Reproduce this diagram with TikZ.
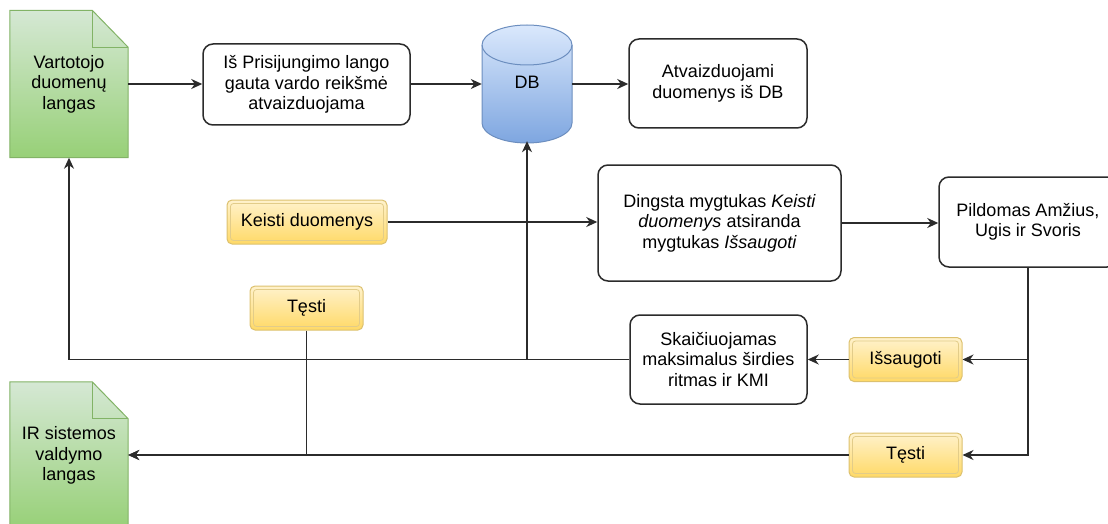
\documentclass[tikz,border=0pt]{standalone}
\usepackage{fontspec}
\setmainfont{Liberation Sans}
\usetikzlibrary{arrows.meta,calc,backgrounds}

\definecolor{greenTop}{HTML}{D5E8D4}
\definecolor{greenBot}{HTML}{97D077}
\definecolor{greenLine}{HTML}{82B366}
\definecolor{blueTop}{HTML}{DAE8FC}
\definecolor{blueBot}{HTML}{7EA6E0}
\definecolor{blueLine}{HTML}{6C8EBF}
\definecolor{yelTop}{HTML}{FFF2CC}
\definecolor{yelBot}{HTML}{FFD966}
\definecolor{yelLine}{HTML}{D6B656}
\definecolor{lineGray}{HTML}{2B2B2B}

\tikzset{
  proc/.style={draw=lineGray, line width=1.5pt, rounded corners=10pt,
    align=center, inner sep=0pt},
  btn/.style={draw=yelLine!85, line width=1pt, rounded corners=5pt,
    top color=yelTop, bottom color=yelBot, align=center, inner sep=0pt,
    minimum width=113pt, minimum height=44pt,
    path picture={\draw[yelLine!70, line width=0.8pt, rounded corners=3pt]
      ([shift={(3.5pt,-3.5pt)}]path picture bounding box.north west) rectangle
      ([shift={(-3.5pt,3.5pt)}]path picture bounding box.south east);}},
  docnode/.style={minimum width=118pt, minimum height=147pt, align=center,
    inner sep=0pt},
  conn/.style={draw=lineGray, line width=1.5pt,
    -{Stealth[length=11pt,width=10pt,inset=3.5pt]}},
  docshape/.style={top color=greenTop, bottom color=greenBot,
    draw=greenLine, line width=1pt}
}

\begin{document}
\begin{tikzpicture}[x=1pt, y=-1pt, font=\fontsize{18}{20.5}\selectfont]
\useasboundingbox (0,0) rectangle (1108,524);

% document windows
\node[docnode] (doc1) at (69,84) {Vartotojo\\duomenų\\langas};
\node[docnode] (doc2) at (69,455.5) {IR sistemos\\valdymo\\langas};

% database
\node[minimum width=90pt, minimum height=118pt, inner sep=0pt] (db) at (527,82) {DB};

% process boxes
\node[proc, minimum width=207pt, minimum height=81pt] (prisij) at (306.5,84.5)
  {Iš Prisijungimo lango\\gauta vardo reikšmė\\atvaizduojama};
\node[proc, minimum width=178pt, minimum height=89pt] (atv) at (718,83.5)
  {Atvaizduojami\\duomenys iš DB};
\node[proc, minimum width=243pt, minimum height=116pt] (ding) at (719.5,223)
  {Dingsta mygtukas \textit{Keisti}\\\textit{duomenys} atsiranda\\mygtukas \textit{Išsaugoti}};
\node[proc, minimum width=178pt, minimum height=90pt] (pild) at (1028,222)
  {Pildomas Amžius,\\Ugis ir Svoris};
\node[proc, minimum width=177pt, minimum height=89pt] (skaic) at (718.5,359.5)
  {Skaičiuojamas\\maksimalus širdies\\ritmas ir KMI};

% buttons
\node[btn, minimum width=160pt] (keisti) at (307,222) {Keisti duomenys};
\node[btn] (testiA) at (306.5,308) {Tęsti};
\node[btn] (isaug) at (905.5,359.5) {Išsaugoti};
\node[btn] (testiB) at (905.5,455) {Tęsti};

\begin{pgfonlayer}{background}
  % folded-corner document shapes
  \foreach \d in {doc1,doc2}{
    \shade[docshape] (\d.north west) -- ($(\d.north east)+(-36,0)$)
      -- ($(\d.north east)+(0,37)$) -- (\d.south east) -- (\d.south west) -- cycle;
    \draw[greenLine, line width=1pt] ($(\d.north east)+(-36,0)$) -- ++(0,37)
      -- ($(\d.north east)+(0,37)$);
  }
  % cylinder body and rim
  \shade[top color=blueTop, bottom color=blueBot, draw=blueLine, line width=1pt]
    (482,45) -- (482,123) arc[start angle=180, end angle=360, x radius=45pt, y radius=20pt]
    -- (572,45) arc[start angle=0, end angle=180, x radius=45pt, y radius=20pt] -- cycle;
  \draw[blueLine, line width=1pt]
    (482,45) arc[start angle=180, end angle=360, x radius=45pt, y radius=20pt];
\end{pgfonlayer}

% connectors
\draw[conn] (doc1.east |- 0,84) -- (prisij.west |- 0,84);
\draw[conn] (prisij.east |- 0,84) -- (db.west |- 0,84);
\draw[conn] (db.east |- 0,84) -- (atv.west |- 0,84);
\draw[conn] (skaic.west) -| (db.south);
\draw[conn] (skaic.west) -| (doc1.south);
\draw[conn] (keisti.east) -- (ding.west |- keisti.east);
\draw[conn] (ding.east |- 0,223) -- (pild.west |- 0,223);
\draw[conn] (pild.south) |- (isaug.east);
\draw[conn] (pild.south) |- (testiB.east);
\draw[conn] (isaug.west) -- (skaic.east);
\draw[conn] (testiB.west) -- (doc2.east |- testiB.west);
\draw[conn] (testiA.south) |- (doc2.east |- testiB.west);

\end{tikzpicture}
\end{document}
